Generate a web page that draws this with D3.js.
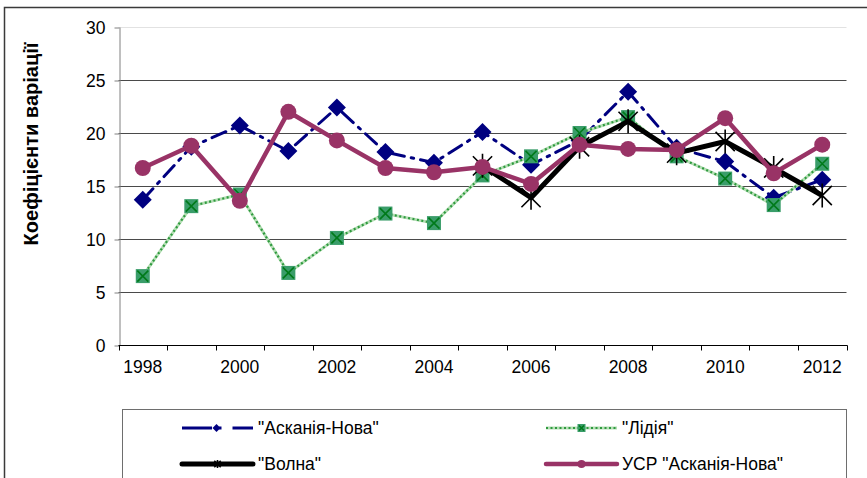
<!DOCTYPE html>
<html>
<head>
<meta charset="utf-8">
<script src="https://cdn.jsdelivr.net/npm/d3@7"></script>
<style>
  html, body { margin: 0; padding: 0; background: #fff; }
  svg { display: block; font-family: "Liberation Sans", Arial, sans-serif; }
</style>
</head>
<body>
<svg id="chart" width="867" height="478"></svg>
<script>
// Коефіцієнти варіації по роках
const years = [1998, 1999, 2000, 2001, 2002, 2003, 2004, 2005, 2006, 2007, 2008, 2009, 2010, 2011, 2012];
const yearLabels = [1998, 2000, 2002, 2004, 2006, 2008, 2010, 2012];
const yTicks = [0, 5, 10, 15, 20, 25, 30];

const askaniaNova = [13.7, 18.7, 20.7, 18.3, 22.4, 18.2, 17.2, 20.1, 17.0, 19.3, 23.9, 18.6, 17.3, 13.9, 15.6];
const lidiya      = [6.5, 13.1, 14.2, 6.8, 10.1, 12.4, 11.5, 16.0, 17.8, 20.0, 21.5, 17.8, 15.7, 13.2, 17.1];
const volna       = [null, null, null, null, null, null, null, 16.9, 13.9, 18.7, 21.1, 18.1, 19.2, 16.7, 14.1];
const usrAskania  = [16.7, 18.8, 13.6, 22.0, 19.3, 16.7, 16.3, 16.8, 15.2, 18.9, 18.5, 18.4, 21.4, 16.2, 18.9];

const seriesNames = ['"Асканія-Нова"', '"Лідія"', '"Волна"', 'УСР "Асканія-Нова"'];

const FONT = 17.5;
const svg = d3.select("#chart");

// outer chart frame
svg.append("rect")
  .attr("x", 4.5).attr("y", 7.5)
  .attr("width", 900).attr("height", 520)
  .attr("fill", "none").attr("stroke", "#3a3a3a").attr("stroke-width", 1.5);

const plot = { left: 118.5, right: 846.5, top: 27, bottom: 345 };

const x = d3.scaleBand().domain(years).range([plot.left, plot.right]).padding(0);
const y = d3.scaleLinear().domain([0, 30]).range([plot.bottom, plot.top]);
const cx = d => x(d) + x.bandwidth() / 2;
const snap = v => Math.round(v) + 0.5;

// horizontal gridlines
svg.append("g").selectAll("line")
  .data(yTicks.filter(t => t > 0))
  .join("line")
  .attr("x1", plot.left).attr("x2", plot.right)
  .attr("y1", d => snap(y(d))).attr("y2", d => snap(y(d)))
  .attr("stroke", d => d === 30 ? "#e2e2e2" : "#4a4a4a")
  .attr("stroke-width", 1);

// y axis
const yAxis = d3.axisLeft(y).tickValues(yTicks).tickSize(5).tickPadding(9).tickSizeOuter(0);
const gy = svg.append("g").attr("transform", `translate(${snap(plot.left)},0)`).call(yAxis);
gy.select(".domain").attr("stroke", "#808080");
gy.selectAll(".tick line").attr("stroke", "#808080").attr("transform", d => `translate(0,${snap(y(d)) - y(d)})`);
gy.selectAll(".tick text").attr("font-size", FONT).attr("fill", "#000")
  .attr("font-family", "'Liberation Sans', Arial, sans-serif").attr("dy", "0.35em");

// x axis: ticks on category boundaries, labels on every other year
const gx = svg.append("g").attr("transform", `translate(0,${snap(plot.bottom)})`);
gx.append("line").attr("x1", plot.left).attr("x2", plot.right + 1)
  .attr("stroke", "#000").attr("stroke-width", 1);
gx.selectAll("line.tk")
  .data(years.concat(["end"]))
  .join("line").attr("class", "tk")
  .attr("x1", d => snap(d === "end" ? plot.right : x(d)))
  .attr("x2", d => snap(d === "end" ? plot.right : x(d)))
  .attr("y1", 0).attr("y2", 5)
  .attr("stroke", "#000");
gx.selectAll("text")
  .data(yearLabels)
  .join("text")
  .attr("x", d => cx(d)).attr("y", 27)
  .attr("text-anchor", "middle")
  .attr("font-size", FONT)
  .text(d => d);

// y axis title
svg.append("text")
  .attr("transform", "translate(37.5,144) rotate(-90)")
  .attr("text-anchor", "middle")
  .attr("font-size", 20).attr("font-weight", "bold")
  .text("Коефіцієнти варіації");

// line generator
const line = d3.line()
  .defined(d => d.v !== null)
  .x(d => cx(d.year))
  .y(d => y(d.v));
const pts = arr => years.map((yr, i) => ({ year: yr, v: arr[i] }));

// marker shapes
function diamond(g, px, py, r, color) {
  g.append("path")
    .attr("d", `M${px},${py - r}L${px + r},${py}L${px},${py + r}L${px - r},${py}Z`)
    .attr("fill", color);
}
function squareX(g, px, py, s) {
  g.append("rect").attr("x", px - s).attr("y", py - s).attr("width", 2 * s).attr("height", 2 * s)
    .attr("fill", "#3a9d6a");
  g.append("path")
    .attr("d", `M${px - s + 1.5},${py - s + 1.5}L${px + s - 1.5},${py + s - 1.5}M${px + s - 1.5},${py - s + 1.5}L${px - s + 1.5},${py + s - 1.5}`)
    .attr("stroke", "#007a1a").attr("stroke-width", 1.6);
}
function star(g, px, py, r) {
  const d = r * 0.8;
  g.append("path")
    .attr("d", `M${px - d},${py - d}L${px + d},${py + d}M${px + d},${py - d}L${px - d},${py + d}M${px},${py - r}L${px},${py + r}`)
    .attr("stroke", "#000").attr("stroke-width", 1.6);
}
function dot(g, px, py, r, color) {
  g.append("circle").attr("cx", px).attr("cy", py).attr("r", r).attr("fill", color);
}

// "Асканія-Нова" — navy dash-dot
const navy = "#000080";
const s1 = svg.append("g");
s1.append("path").datum(pts(askaniaNova)).attr("d", line)
  .attr("fill", "none").attr("stroke", navy).attr("stroke-width", 3)
  .attr("stroke-dasharray", "15,7,2.5,7").attr("stroke-linecap", "round");
pts(askaniaNova).forEach(p => diamond(s1, cx(p.year), y(p.v), 9, navy));

// "Лідія" — green dotted
const s2 = svg.append("g");
s2.append("path").datum(pts(lidiya)).attr("d", line)
  .attr("fill", "none").attr("stroke", "#b5deb5").attr("stroke-width", 3);
s2.append("path").datum(pts(lidiya)).attr("d", line)
  .attr("fill", "none").attr("stroke", "#2e9a3e").attr("stroke-width", 2.2)
  .attr("stroke-dasharray", "2,2.5");
pts(lidiya).forEach(p => squareX(s2, cx(p.year), y(p.v), 7));

// "Волна" — thick black
const s3 = svg.append("g");
s3.append("path").datum(pts(volna)).attr("d", line)
  .attr("fill", "none").attr("stroke", "#000").attr("stroke-width", 5)
  .attr("stroke-linejoin", "round");
pts(volna).filter(p => p.v !== null).forEach(p => star(s3, cx(p.year), y(p.v), 12));

// УСР "Асканія-Нова" — thick magenta
const plum = "#993366";
const s4 = svg.append("g");
s4.append("path").datum(pts(usrAskania)).attr("d", line)
  .attr("fill", "none").attr("stroke", plum).attr("stroke-width", 4.5)
  .attr("stroke-linejoin", "round");
pts(usrAskania).forEach(p => dot(s4, cx(p.year), y(p.v), 8, plum));

// legend
const lg = svg.append("g");
lg.append("rect").attr("x", 122.5).attr("y", 409.5).attr("width", 724).attr("height", 100)
  .attr("fill", "#fff").attr("stroke", "#6e6e6e").attr("stroke-width", 1);

const rows = [
  { name: seriesNames[0], x0: 182, yy: 428, kind: 0 },
  { name: seriesNames[1], x0: 546, yy: 428, kind: 1 },
  { name: seriesNames[2], x0: 182, yy: 464, kind: 2 },
  { name: seriesNames[3], x0: 546, yy: 464, kind: 3 }
];
rows.forEach(r => {
  const g = lg.append("g");
  const x1 = r.x0, x2 = r.x0 + 71, mid = (x1 + x2) / 2;
  if (r.kind === 0) {
    g.append("line").attr("x1", x1).attr("x2", x2).attr("y1", r.yy).attr("y2", r.yy)
      .attr("stroke", navy).attr("stroke-width", 3).attr("stroke-dasharray", "30,7,2.5,11");
    diamond(g, mid - 1, r.yy, 4, navy);
  } else if (r.kind === 1) {
    g.append("line").attr("x1", x1).attr("x2", x2).attr("y1", r.yy).attr("y2", r.yy)
      .attr("stroke", "#b5deb5").attr("stroke-width", 3);
    g.append("line").attr("x1", x1).attr("x2", x2).attr("y1", r.yy).attr("y2", r.yy)
      .attr("stroke", "#2e9a3e").attr("stroke-width", 2).attr("stroke-dasharray", "2,2.5");
    squareX(g, mid, r.yy, 4);
  } else if (r.kind === 2) {
    g.append("line").attr("x1", x1).attr("x2", x2).attr("y1", r.yy).attr("y2", r.yy)
      .attr("stroke", "#000").attr("stroke-width", 5).attr("stroke-linecap", "round");
    star(g, mid, r.yy, 4);
  } else {
    g.append("line").attr("x1", x1).attr("x2", x2).attr("y1", r.yy).attr("y2", r.yy)
      .attr("stroke", plum).attr("stroke-width", 4.5).attr("stroke-linecap", "round");
    dot(g, mid, r.yy, 4, plum);
  }
  g.append("text").attr("x", x2 + 5).attr("y", r.yy).attr("dy", "0.36em")
    .attr("font-size", FONT).text(r.name);
});
</script>
</body>
</html>
